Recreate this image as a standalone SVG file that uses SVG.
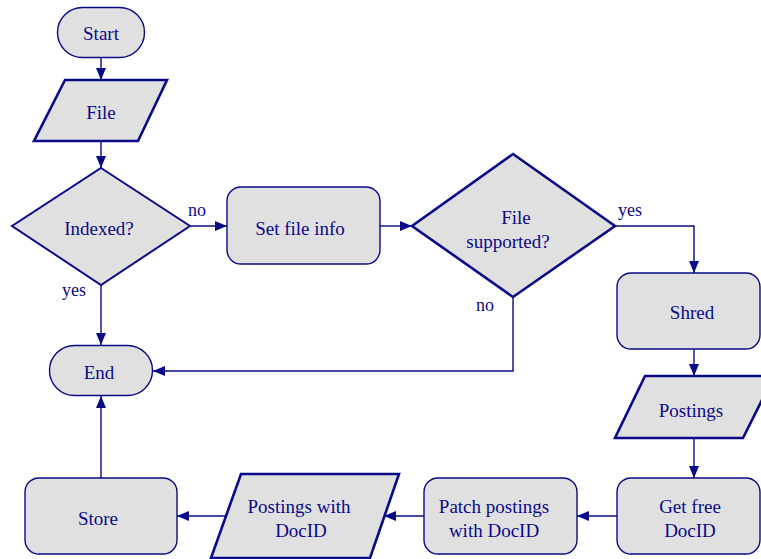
<svg xmlns="http://www.w3.org/2000/svg" width="761" height="559" viewBox="0 0 761 559">
  <style>
    .node { fill: #e0e0e0; stroke: #0a0a88; stroke-width: 1.4; }
    .thick { stroke-width: 2.6; }
    .mid { stroke-width: 2; }
    .lbl { font-family: "Liberation Serif", "Times New Roman", serif; font-size: 19px; fill: #0a0a88; text-anchor: middle; dominant-baseline: central; }
    .edge { fill: none; stroke: #0a0a88; stroke-width: 1.4; marker-end: url(#arrow); }
    .elbl { font-family: "Liberation Serif", "Times New Roman", serif; font-size: 18px; fill: #0a0a88; }
  </style>
  <defs>
    <marker id="arrow" viewBox="0 0 12 10" refX="12" refY="5" markerWidth="12" markerHeight="10" markerUnits="userSpaceOnUse" orient="auto">
      <path d="M0,0 L12,5 L0,10 Z" fill="#0a0a88"/>
    </marker>
  </defs>

  <rect width="761" height="559" fill="#ffffff"/>

  <!-- connectors -->
  <g id="edges">
    <path class="edge" d="M101,57 V80"/>
    <path class="edge" d="M101,141 V168"/>
    <path class="edge" d="M191,226 H227"/>
    <path class="edge" d="M101,285 V345"/>
    <path class="edge" d="M380,226 H412"/>
    <path class="edge" d="M615,226 H694 V273"/>
    <path class="edge" d="M513,297 V371 H153"/>
    <path class="edge" d="M694,349 V376"/>
    <path class="edge" d="M694,438 V478"/>
    <path class="edge" d="M617,516 H577"/>
    <path class="edge" d="M424,516 H384"/>
    <path class="edge" d="M226,516 H177"/>
    <path class="edge" d="M101,478 V396"/>
    <text class="elbl" x="188" y="216">no</text>
    <text class="elbl" x="62" y="296">yes</text>
    <text class="elbl" x="618" y="216">yes</text>
    <text class="elbl" x="476" y="311">no</text>
  </g>

  <g id="start">
    <rect class="node" x="57.5" y="7.5" width="87" height="50" rx="25"/>
    <text class="lbl" x="101" y="33">Start</text>
  </g>

  <g id="file">
    <polygon class="node thick" points="65,80 167,80 138,141 34,141"/>
    <text class="lbl" x="101" y="112">File</text>
  </g>

  <g id="indexed">
    <polygon class="node mid" points="101,168 190,226 101,285 12,226"/>
    <text class="lbl" x="99" y="228">Indexed?</text>
  </g>

  <g id="set-file-info">
    <rect class="node" x="227" y="187" width="153" height="77" rx="14"/>
    <text class="lbl" x="300" y="228">Set file info</text>
  </g>

  <g id="file-supported">
    <polygon class="node thick" points="513,154 615,226 513,297 412,226"/>
    <text class="lbl" x="516" y="217">File</text>
    <text class="lbl" x="508" y="241">supported?</text>
  </g>

  <g id="end">
    <rect class="node" x="49.5" y="345.5" width="103" height="50" rx="25"/>
    <text class="lbl" x="99" y="372">End</text>
  </g>

  <g id="shred">
    <rect class="node" x="617" y="273" width="143" height="76" rx="14"/>
    <text class="lbl" x="692" y="312">Shred</text>
  </g>

  <g id="postings">
    <polygon class="node thick" points="645,376 774,376 743,438 615,438"/>
    <text class="lbl" x="691" y="410">Postings</text>
  </g>

  <g id="get-free-docid">
    <rect class="node" x="617" y="478" width="143" height="76" rx="14"/>
    <text class="lbl" x="690" y="506">Get free</text>
    <text class="lbl" x="690" y="530">DocID</text>
  </g>

  <g id="patch-postings">
    <rect class="node" x="424" y="478" width="153" height="76" rx="14"/>
    <text class="lbl" x="494" y="506">Patch postings</text>
    <text class="lbl" x="494" y="530">with DocID</text>
  </g>

  <g id="postings-with-docid">
    <polygon class="node thick" points="241,474 399,474 370,558 211,558"/>
    <text class="lbl" x="299" y="506">Postings with</text>
    <text class="lbl" x="301" y="530">DocID</text>
  </g>

  <g id="store">
    <rect class="node" x="25" y="478" width="152" height="76" rx="14"/>
    <text class="lbl" x="98" y="518">Store</text>
  </g>
</svg>
